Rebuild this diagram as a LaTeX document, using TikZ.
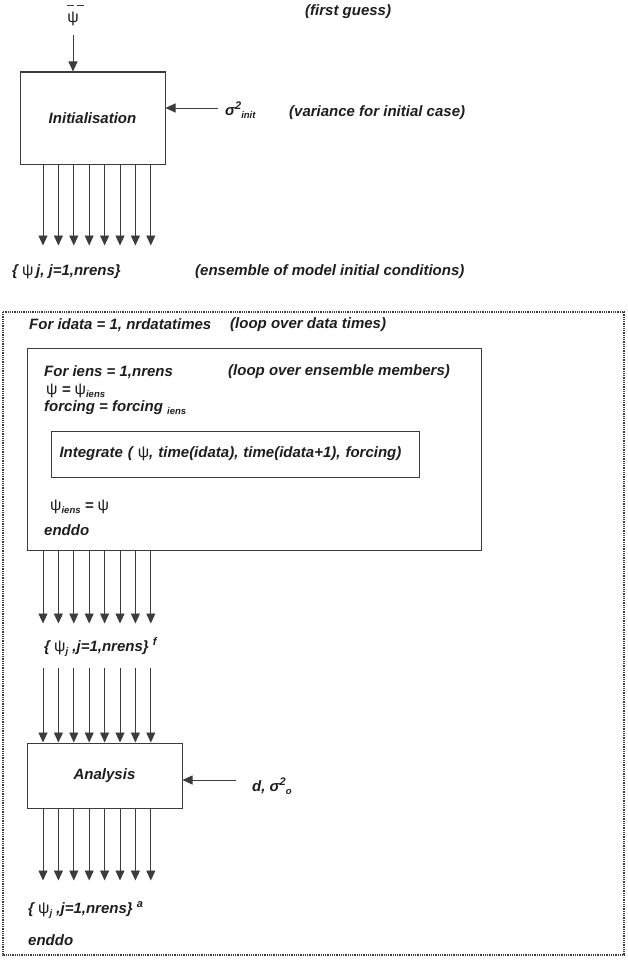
\documentclass[tikz,border=0pt]{standalone}
\usepackage{fontspec}
\setmainfont{Liberation Sans}
\usetikzlibrary{arrows.meta,positioning,calc}
\definecolor{cline}{RGB}{60,60,60}
\definecolor{ctext}{RGB}{30,30,30}
\newcommand{\ps}{{\normalfont\fontsize{16}{17}\selectfont ψ}}
\newcommand{\lo}[1]{\raisebox{-3pt}{\fontsize{9.5}{9}\selectfont #1}}
\newcommand{\hi}[1]{\raisebox{6pt}{\fontsize{11}{10}\selectfont #1}}
\tikzset{
  txt/.style={anchor=west, inner sep=0pt, text=ctext,
    font=\fontsize{15}{17}\selectfont\bfseries\itshape},
  box/.style={draw=cline, line width=1pt, inner sep=0pt, text=ctext,
    font=\fontsize{15}{17}\selectfont\bfseries\itshape},
  flow/.style={draw=cline, line width=0.9pt, -{Triangle[width=9pt,length=10pt]}},
  loopbox/.style={draw=cline, line width=1.2pt, dash pattern=on 1pt off 0.8pt}
}
\begin{document}
\begin{tikzpicture}[x=1pt, y=-1pt]
  \useasboundingbox (0,0) rectangle (627,966);
  \foreach \k in {0,...,7}
    \coordinate (col\k) at ({43+15.4*\k},0);

  % initial step
  \node[txt, anchor=center] (psi) at (73,19) {\ps};
  \draw[cline, line width=0.8pt] (67,5) -- (74,5) (77,5) -- (84,5);
  \node[txt] (guess) at (305,12) {(first guess)};
  \node[box, minimum width=145pt, minimum height=92pt] (init) at (92.5,118) {Initialisation};
  \coordinate (psiout) at (73,35);
  \draw[flow] (psiout) -- (psiout |- init.north);
  \node[txt] (sigini) at (225,110) {σ\hi{2}\lo{init}};
  \node[txt] (varnote) at (289,113) {(variance for initial case)};
  \coordinate (sigin) at (218,108);
  \draw[flow] (sigin) -- (sigin -| init.east);
  \foreach \k in {0,...,7}
    \draw[flow] (col\k |- init.south) -- ++(0,81);
  \node[txt] (ens0) at (12,272) {\{ \ps\,j, j=1,nrens\}};
  \node[txt] (ensnote) at (195,272) {(ensemble of model initial conditions)};

  % loop over data times
  \draw[loopbox] (3,312) rectangle (624,955);
  \node[txt] (idata) at (29,325) {For idata = 1, nrdatatimes};
  \node[txt] (idatanote) at (230,325) {(loop over data times)};

  \node[box, minimum width=454pt, minimum height=202pt] (iensbox) at (254,449) {};
  \node[txt] (iens) at (44,372) {For iens = 1,nrens};
  \node[txt] (iensnote) at (228,372) {(loop over ensemble members)};
  \node[txt] (psiset) at (46,391) {\ps{} = \ps\lo{iens}};
  \node[txt] (forceset) at (44,408) {forcing = forcing \lo{iens}};
  \node[box, anchor=west, minimum height=46pt, text width=352pt, inner xsep=8pt]
    (integ) at (51,454) {Integrate ( \ps, time(idata), time(idata+1), forcing)};
  \node[txt] (psiback) at (50,507) {\ps\lo{iens} = \ps};
  \node[txt] (enddoin) at (44,530) {enddo};
  \foreach \k in {0,...,7}
    \draw[flow] (col\k |- iensbox.south) -- ++(0,73);
  \node[txt] (ensf) at (44,647) {\{ \ps\lo{j} ,j=1,nrens\} \hi{f}};

  % analysis
  \node[box, minimum width=155pt, minimum height=65pt] (ana) at (104.5,775.5) {Analysis};
  \coordinate (mid) at (0,668);
  \foreach \k in {0,...,7}
    \draw[flow] (col\k |- mid) -- (col\k |- ana.north);
  \coordinate (obsin) at (236,780);
  \draw[flow] (obsin) -- (obsin -| ana.east);
  \node[txt] (obs) at (252,786) {d, σ\hi{2}\lo{o}};
  \foreach \k in {0,...,7}
    \draw[flow] (col\k |- ana.south) -- ++(0,72);
  \node[txt] (ensa) at (28,910) {\{ \ps\lo{j} ,j=1,nrens\} \hi{a}};
  \node[txt] (enddoout) at (28,940) {enddo};
\end{tikzpicture}
\end{document}
